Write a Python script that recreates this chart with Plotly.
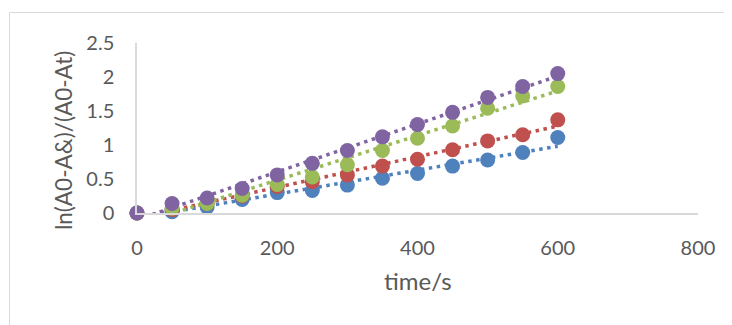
import numpy as np
import plotly.graph_objects as go

time_s = [0, 50, 100, 150, 200, 250, 300, 350, 400, 450, 500, 550, 600]
series_blue = [0, 0.02, 0.09, 0.20, 0.30, 0.33, 0.41, 0.51, 0.58, 0.69, 0.78, 0.89, 1.11]
series_red = [0, 0.05, 0.14, 0.25, 0.39, 0.46, 0.56, 0.69, 0.79, 0.93, 1.06, 1.15, 1.37]
series_green = [0, 0.07, 0.14, 0.26, 0.42, 0.53, 0.71, 0.92, 1.10, 1.28, 1.54, 1.72, 1.86]
series_purple = [0, 0.14, 0.22, 0.36, 0.56, 0.73, 0.92, 1.12, 1.30, 1.48, 1.70, 1.86, 2.05]

x_ticks = [0, 200, 400, 600, 800]
y_ticks = [0, 0.5, 1, 1.5, 2, 2.5]
y_tick_text = ["0", "0.5", "1", "1.5", "2", "2.5"]

colors = ["#4f81bd", "#c0504d", "#9bbb59", "#8064a2"]
all_series = [series_blue, series_red, series_green, series_purple]

FONT = "Lato, Open Sans, sans-serif"
fig = go.Figure()

t = np.array(time_s, dtype=float)
# trendlines (linear fit) first
for ys, c in zip(all_series, colors):
    k, b = np.polyfit(t, np.array(ys), 1)
    xs = [t.min(), t.max()]
    fig.add_trace(go.Scatter(x=xs, y=[k * xs[0] + b, k * xs[1] + b], mode="lines",
                             line=dict(color=c, width=3.5, dash="3.5px,4.5px"),
                             showlegend=False, hoverinfo="skip", cliponaxis=False))
for ys, c in zip(all_series, colors):
    fig.add_trace(go.Scatter(x=time_s, y=ys, mode="markers",
                             marker=dict(color=c, size=15, line=dict(width=0)),
                             showlegend=False, cliponaxis=False))

OFF = 8  # page body margin
L, R, T, B = 137 - OFF, 698 - OFF, 43 - OFF, 213 - OFF
W, H = 732 - OFF, 325 - OFF
pw, ph = R - L, B - T

def px(xp):
    return (xp - OFF - L) / pw

def py(yp):
    return (B - (yp - OFF)) / ph

fig.update_layout(
    width=W, height=H,
    margin=dict(l=L, r=W - R, t=T, b=H - B, pad=0, autoexpand=False),
    paper_bgcolor="white", plot_bgcolor="white",
    font=dict(family=FONT, color="#595959", size=15),
    xaxis=dict(range=[0, 800], tickvals=x_ticks, showgrid=False, zeroline=False,
               showline=True, linecolor="#d9d9d9", linewidth=1.5, automargin=False,
               ticks="", ticklabelstandoff=16, tickfont=dict(size=20, color="#595959")),
    yaxis=dict(range=[0, 2.5], tickvals=y_ticks, ticktext=y_tick_text, showgrid=False,
               zeroline=False, showline=True, linecolor="#d9d9d9", linewidth=1.5, automargin=False,
               ticks="", ticklabelstandoff=17, tickfont=dict(size=20, color="#595959")),
    shapes=[dict(type="rect", xref="paper", yref="paper",
                 x0=px(9.5), x1=px(745), y0=py(12.5), y1=py(345),
                 line=dict(color="#d9d9d9", width=1), fillcolor="rgba(0,0,0,0)", layer="below")],
    annotations=[
        dict(text="time/s", xref="paper", yref="paper", x=px(418), y=py(280),
             showarrow=False, font=dict(size=24, color="#595959"), xanchor="center", yanchor="middle"),
        dict(text="ln(A0-A&)/(A0-At)", xref="paper", yref="paper", x=px(63), y=py(141),
             showarrow=False, textangle=-90, font=dict(size=22.5, color="#595959"),
             xanchor="center", yanchor="middle"),
    ],
)

fig.write_html("out.html")
